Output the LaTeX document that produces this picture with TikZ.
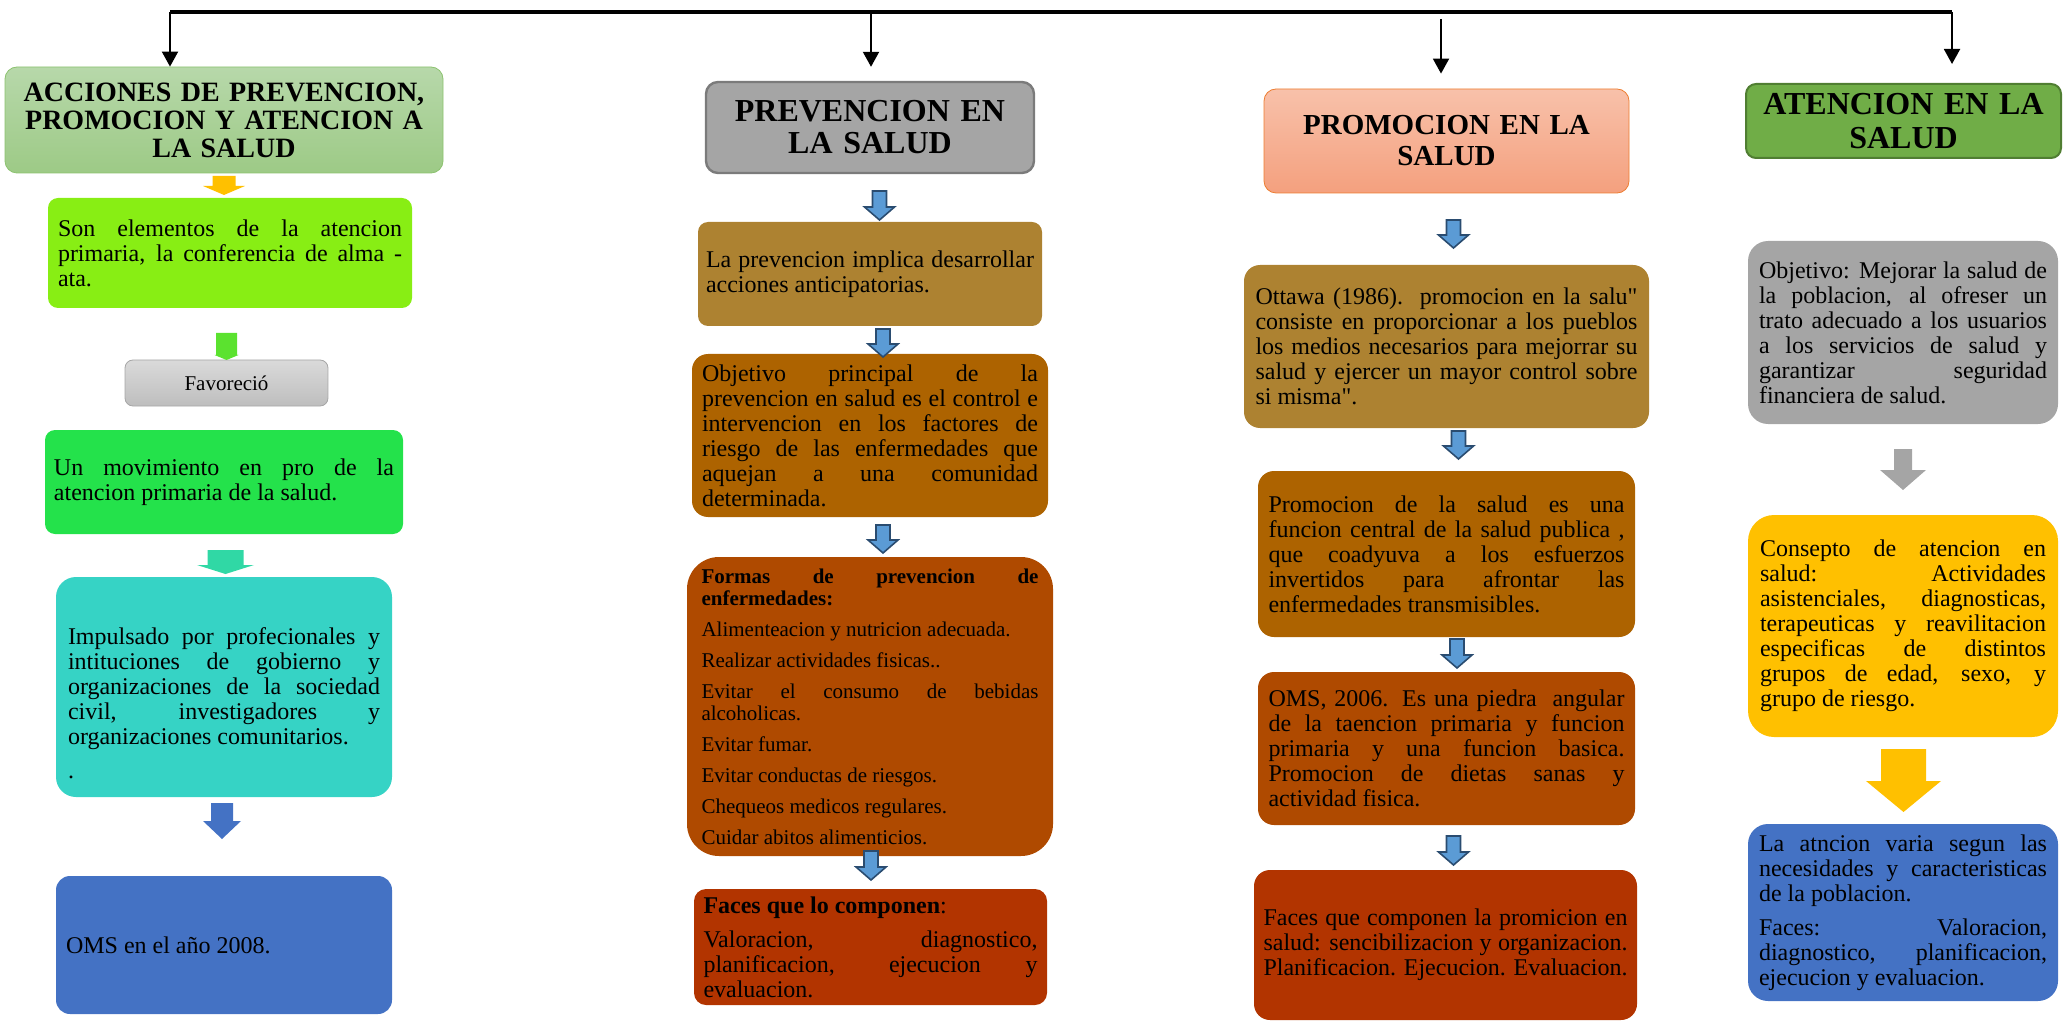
\documentclass[tikz,border=0pt]{standalone}
\usepackage{fontspec}
\setmainfont{Liberation Serif}
\usepackage{tikz}
\usetikzlibrary{positioning}
\usetikzlibrary{calc,arrows.meta}

\definecolor{accTop}{HTML}{B7D8AA}
\definecolor{accBot}{HTML}{9DCA86}
\definecolor{accLine}{HTML}{8CC26F}
\definecolor{limeB}{HTML}{88EE14}
\definecolor{greenArrow}{HTML}{5BE22F}
\definecolor{favTop}{HTML}{DADADA}
\definecolor{favBot}{HTML}{BEBEBE}
\definecolor{favLine}{HTML}{A6A6A6}
\definecolor{greenC}{HTML}{24E24B}
\definecolor{tealArrow}{HTML}{30D8A5}
\definecolor{tealD}{HTML}{36D3C5}
\definecolor{blueE}{HTML}{4472C4}
\definecolor{amber}{HTML}{FFC000}
\definecolor{grayP}{HTML}{A5A5A5}
\definecolor{grayPLine}{HTML}{7B7B7B}
\definecolor{ochre}{HTML}{AD8231}
\definecolor{brownP}{HTML}{AD6300}
\definecolor{rust}{HTML}{AF4A00}
\definecolor{redF}{HTML}{B23400}
\definecolor{blueArrow}{HTML}{5B9BD5}
\definecolor{blueArrowLine}{HTML}{2A4C70}
\definecolor{promTop}{HTML}{F8C1AA}
\definecolor{promBot}{HTML}{F4A07E}
\definecolor{promLine}{HTML}{ED7D31}
\definecolor{greenA}{HTML}{70AD47}
\definecolor{greenALine}{HTML}{507E32}

\tolerance=10000
\hbadness=10000
\hyphenpenalty=10000
\exhyphenpenalty=10000

\newcommand{\bodytext}{\fontsize{12}{12.5}\selectfont}
\newcommand{\smalltext}{\fontsize{10.5}{11}\selectfont}
\newcommand{\acctitle}{\fontsize{14}{14}\selectfont\bfseries}
\newcommand{\prevtitle}{\fontsize{16}{16}\selectfont\bfseries}
\newcommand{\promtitle}{\fontsize{14.5}{15.5}\selectfont\bfseries}
\newcommand{\atentitle}{\fontsize{16}{17}\selectfont\bfseries}
\newcommand{\pgap}{\par\vspace{4.5pt}}

% block arrow: style, x, top, bottom, shaft half, head half, head length
\newcommand{\blockarrow}[7]{%
  \path[#1] (#2-#5,#3) -- (#2+#5,#3) -- (#2+#5,#4-#7) -- (#2+#6,#4-#7)
    -- (#2,#4) -- (#2-#6,#4-#7) -- (#2-#5,#4-#7) -- cycle;}

\begin{document}
\begin{tikzpicture}[x=0.5pt, y=-0.5pt,
    textbox/.style={rounded corners=5pt, inner sep=0pt, align=justify, font=\bodytext},
    titlebox/.style={rounded corners=6pt, inner sep=0pt, align=center},
    outarrow/.style={fill=blueArrow, draw=blueArrowLine, line width=0.8pt},
    downarrow/.style={line width=1pt, -{Triangle[width=8pt,length=7.5pt]}}]

\useasboundingbox (0,0) rectangle (2070,1021);

% Column 1
\node[titlebox, top color=accTop, bottom color=accBot, draw=accLine, minimum width=219pt, minimum height=53pt, text width=212pt, font=\acctitle] (acciones) at (224,120) {ACCIONES DE PREVENCION,\\PROMOCION Y ATENCION A\\LA SALUD};
\node[textbox, fill=limeB, minimum width=182pt, minimum height=55pt, text width=172pt] (elementos) at (230,253) {Son elementos de la atencion\linebreak primaria, la conferencia de alma -\linebreak ata.};
\node[titlebox, rounded corners=4pt, top color=favTop, bottom color=favBot, draw=favLine, minimum width=101.5pt, minimum height=23pt, font=\smalltext] (favorecio) at (226.5,383) {Favoreció};
\node[textbox, fill=greenC, minimum width=179pt, minimum height=52pt, text width=170pt] (movimiento) at (224,482) {Un movimiento en pro de la\linebreak atencion primaria de la salud.};
\node[textbox, rounded corners=10pt, fill=tealD, minimum width=168pt, minimum height=110pt, text width=156pt] (impulsado) at (224,687) {\rule{0pt}{25pt}Impulsado por profecionales y\linebreak intituciones de gobierno y\linebreak organizaciones de la sociedad\linebreak civil, investigadores y\linebreak organizaciones comunitarios.\pgap .};
\node[textbox, rounded corners=7pt, fill=blueE, minimum width=168pt, minimum height=69pt, text width=158pt] (oms2008) at (224,945) {OMS en el año 2008.};

% Column 2
\node[titlebox, fill=grayP, draw=grayPLine, line width=1.2pt, minimum width=164pt, minimum height=45.5pt, text width=160pt, font=\prevtitle] (prevencion) at (870,127.5) {PREVENCION EN\\LA SALUD};
\node[textbox, fill=ochre, minimum width=172pt, minimum height=52pt, text width=164pt] (anticipa) at (870,274) {La prevencion implica desarrollar\linebreak acciones anticipatorias.};
\node[textbox, rounded corners=8pt, fill=brownP, minimum width=178pt, minimum height=81.5pt, text width=168pt] (objprev) at (870,435.5) {Objetivo principal de la\linebreak prevencion en salud es el control e\linebreak intervencion en los factores de\linebreak riesgo de las enfermedades que\linebreak aquejan a una comunidad\linebreak determinada.};
\node[textbox, rounded corners=16pt, fill=rust, minimum width=183pt, minimum height=149.5pt, text width=168.5pt, font=\smalltext] (formas) at (870,706.5) {\textbf{Formas de prevencion de\linebreak enfermedades:}\pgap Alimenteacion y nutricion adecuada.\pgap Realizar actividades fisicas..\pgap Evitar el consumo de bebidas\linebreak alcoholicas.\pgap Evitar fumar.\pgap Evitar conductas de riesgos.\pgap Chequeos medicos regulares.\pgap Cuidar abitos alimenticios.};
\node[textbox, rounded corners=6pt, fill=redF, minimum width=176.5pt, minimum height=58pt, text width=167pt] (facesprev) at (870.5,947) {\textbf{Faces que lo componen}:\pgap Valoracion, diagnostico,\linebreak planificacion, ejecucion y\linebreak evaluacion.};

% Column 3
\node[titlebox, top color=promTop, bottom color=promBot, draw=promLine, minimum width=182.5pt, minimum height=52pt, text width=178pt, font=\promtitle] (promocion) at (1446.5,141) {PROMOCION EN LA\\SALUD};
\node[textbox, rounded corners=8pt, fill=ochre, minimum width=202.5pt, minimum height=81.5pt, text width=191pt] (ottawa) at (1446.5,346.5) {Ottawa (1986).\ \ promocion en la salu\textquotedbl\linebreak consiste en proporcionar a los pueblos\linebreak los medios necesarios para mejorrar su\linebreak salud y ejercer un mayor control sobre\linebreak si misma\textquotedbl.};
\node[textbox, rounded corners=8pt, fill=brownP, minimum width=188.5pt, minimum height=83pt, text width=178pt] (promsalud) at (1446.5,554) {Promocion de la salud es una\linebreak funcion central de la salud publica ,\linebreak que coadyuva a los esfuerzos\linebreak invertidos para afrontar las\linebreak enfermedades transmisibles.};
\node[textbox, rounded corners=8pt, fill=rust, minimum width=188.5pt, minimum height=76.5pt, text width=178pt] (oms2006) at (1446.5,748.5) {OMS, 2006. Es una piedra\ \ angular\linebreak de la taencion primaria y funcion\linebreak primaria y una funcion basica.\linebreak Promocion de dietas sanas y\linebreak actividad fisica.};
\node[textbox, rounded corners=8pt, fill=redF, minimum width=191.5pt, minimum height=75pt, text width=182pt] (facesprom) at (1445.5,945) {Faces que componen la promicion en\linebreak salud: sencibilizacion y organizacion.\linebreak Planificacion. Ejecucion. Evaluacion.};

% Column 4
\node[titlebox, rounded corners=5pt, fill=greenA, draw=greenALine, line width=1pt, minimum width=157.5pt, minimum height=37pt, text width=154pt, font=\atentitle] (atencion) at (1903.5,121) {ATENCION EN LA\\SALUD};
\node[textbox, rounded corners=10pt, fill=grayP, minimum width=155pt, minimum height=91.5pt, text width=144pt] (objaten) at (1903,332.5) {Objetivo: Mejorar la salud de\linebreak la poblacion, al ofreser un\linebreak trato adecuado a los usuarios\linebreak a los servicios de salud y\linebreak garantizar seguridad\linebreak financiera de salud.};
\node[textbox, rounded corners=13pt, fill=amber, minimum width=155pt, minimum height=111pt, text width=143pt] (consepto) at (1903,626) {Consepto de atencion en\linebreak salud: Actividades\linebreak asistenciales, diagnosticas,\linebreak terapeuticas y reavilitacion\linebreak especificas de distintos\linebreak grupos de edad, sexo, y\linebreak grupo de riesgo.};
\node[textbox, rounded corners=10pt, fill=blueE, minimum width=155pt, minimum height=88.5pt, text width=144pt] (atncion) at (1903,912.5) {La atncion varia segun las\linebreak necesidades y caracteristicas\linebreak de la poblacion.\pgap Faces: Valoracion,\linebreak diagnostico, planificacion,\linebreak ejecucion y evaluacion.};

% Block arrows inside the columns
\blockarrow{fill=amber}{224}{176}{195}{11.5}{21}{9}
\blockarrow{fill=greenArrow}{226.5}{333}{360}{10.5}{12}{5}
\blockarrow{fill=tealArrow}{225.5}{550}{574}{18}{28.5}{9}
\blockarrow{fill=blueE}{222}{803}{839}{11}{19}{18}

\blockarrow{outarrow}{879.5}{191}{220}{7}{15}{13}
\blockarrow{outarrow}{883}{329}{357}{7}{15}{13}
\blockarrow{outarrow}{883}{525}{553}{7}{15}{13}
\blockarrow{outarrow}{871}{851}{880}{7}{15}{13}

\blockarrow{outarrow}{1453.5}{220}{248}{7}{15}{13}
\blockarrow{outarrow}{1458.5}{431}{459}{7}{15}{13}
\blockarrow{outarrow}{1457}{639}{668}{7}{15}{13}
\blockarrow{outarrow}{1453.5}{836}{865}{7}{15}{13}

\blockarrow{fill=grayP}{1903}{449}{490}{9}{23}{20}
\blockarrow{fill=amber}{1903.5}{749}{812}{22.5}{37.5}{31}

% Top bar and arrows to the four titles
\coordinate (top1) at (170,12);
\coordinate (top2) at (871,12);
\coordinate (top3) at (1441,19);
\coordinate (top4) at (1952,12);
\draw[line width=2pt] (top1) -- (top4);
\foreach \i/\b/\g in {1/acciones/0, 2/prevencion/14, 3/promocion/15, 4/atencion/19} {
    \draw[downarrow] (top\i) -- ($(top\i |- \b.north)+(0,-\g)$);
}

\end{tikzpicture}
\end{document}
